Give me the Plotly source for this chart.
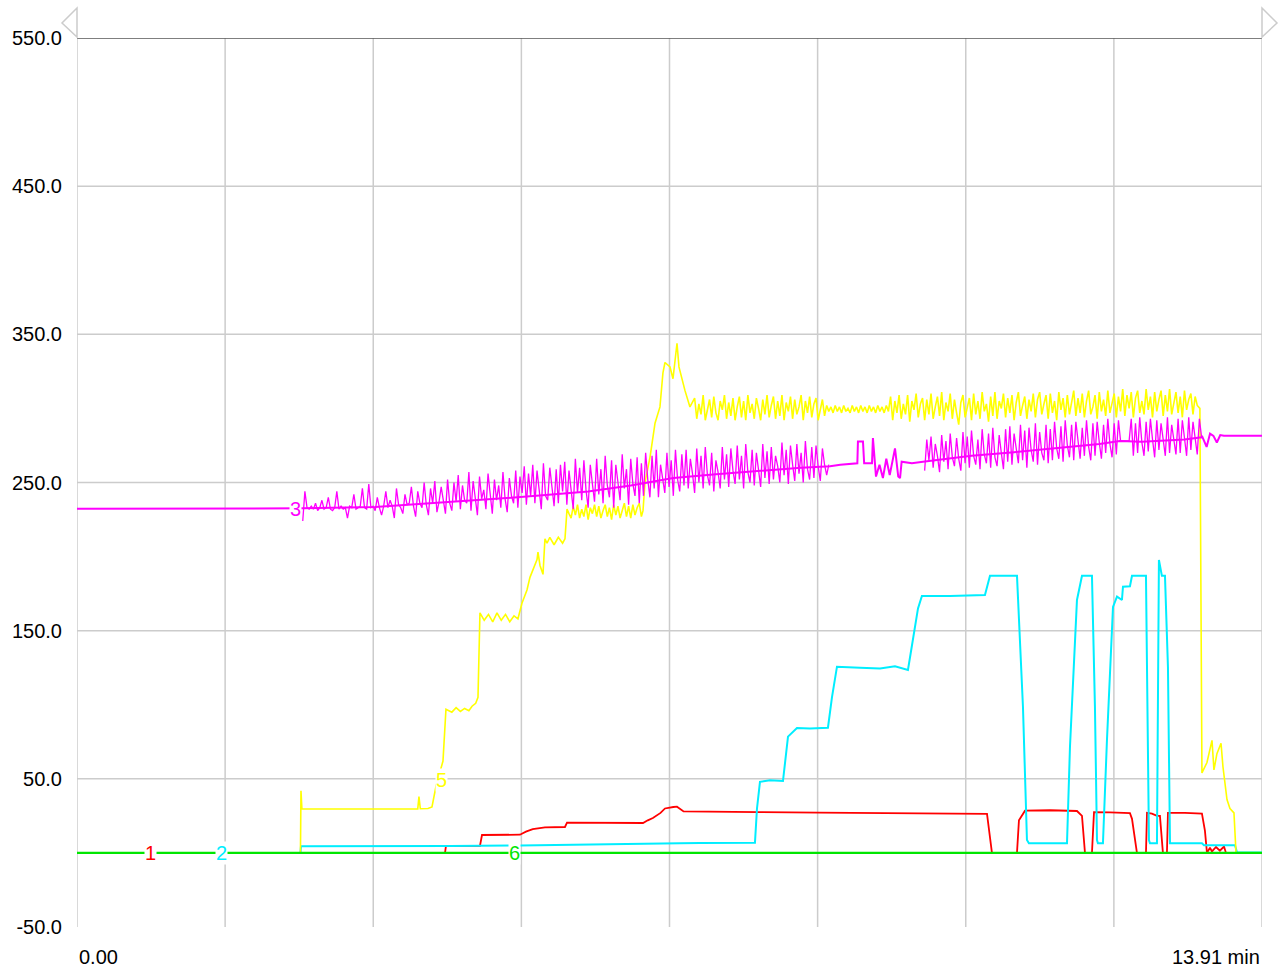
import numpy as np
import plotly.graph_objects as go

# ---------------- data ----------------
T_END = 13.91
Y_TICKS = [-50, 50, 150, 250, 350, 450, 550]
Y_GRID = [50, 150, 250, 350, 450]
X_GRID_DIVS = 8
X_LABELS = ["0.00", "13.91 min"]
SAMPLE_STEP = 0.025  # sampling interval of the noisy blocks (min)

# channel 1 (red)
CH1_T = [0, 4.320, 4.331, 4.730, 4.754, 5.200, 5.27, 5.35, 5.493, 5.728,
         5.752, 6.644, 6.70, 6.76, 6.85, 6.902, 7.0, 7.043, 7.12, 7.313,
         8.0, 8.7, 9.5, 10.2, 10.682, 10.740, 11.034, 11.057, 11.128, 11.421,
         11.738, 11.797, 11.832, 11.914, 11.938, 12.125, 12.360, 12.384, 12.442, 12.548,
         12.560, 12.618, 12.677, 12.712, 12.747, 12.794, 12.806, 13.006, 13.205, 13.240,
         13.264, 13.299, 13.323, 13.370, 13.416, 13.464, 13.487, 13.91]
CH1_V = [0, 0, 4.7, 4.7, 12.1, 12.3, 14.4, 16, 17.3, 17.5,
         20.4, 20.2, 22, 23.6, 27, 30, 31, 31.2, 28, 27.8,
         27.5, 27.2, 26.8, 26.5, 26.3, 0, 0, 22, 28.5, 28.8,
         28.3, 25, 0, 0, 27.5, 27.3, 26.8, 23, 0, 0,
         27, 26.5, 25, 25, 0, 0, 27, 27, 26.5, 15,
         0, 3.5, 1, 4, 1.5, 4.3, 0, 0]

# channel 2 (cyan)
CH2_T = [0, 2.623, 2.629, 3.557, 4.378, 5.200, 6.139, 7.078, 7.313, 7.958,
         7.982, 8.017, 8.134, 8.287, 8.346, 8.451, 8.604, 8.815, 8.862, 8.921,
         9.191, 9.426, 9.602, 9.754, 9.801, 9.872, 9.918, 10.247, 10.658, 10.693,
         10.717, 11.034, 11.069, 11.104, 11.151, 11.174, 11.621, 11.656, 11.738, 11.797,
         11.914, 11.949, 11.973, 11.984, 12.043, 12.090, 12.161, 12.208, 12.266, 12.278,
         12.360, 12.384, 12.548, 12.583, 12.595, 12.677, 12.700, 12.735, 12.771, 12.806,
         12.830, 13.205, 13.229, 13.593, 13.616, 13.91]
CH2_V = [0, 0, 4.5, 4.3, 4.6, 5.0, 5.5, 6.5, 6.7, 6.9,
         30, 48, 49, 48.5, 78.5, 84.3, 84, 84.5, 105, 125.7,
         125, 124.5, 126, 123.5, 140, 165, 173.4, 173.4, 174, 183,
         187, 187, 146, 98.7, 8.7, 6.5, 6.5, 71.7, 170.7, 187,
         187, 98.7, 8.7, 6.5, 6.5, 76, 166, 173, 170.7, 179.7,
         180, 187, 187, 8.7, 6.5, 6.5, 197.7, 187, 187, 125.7,
         6.5, 6.5, 5.2, 5.2, 0.5, 0.3]

# channel 3 (magenta): baseline readings + noisy blocks
CH3_LINE_T = [0.0, 2.60, 2.65, 3.5, 4.0, 4.5, 5.0, 5.5, 6.0, 6.5, 7.0, 7.5, 8.0, 8.5,
              8.84, 8.96, 9.16, 9.167, 9.226, 9.24, 9.332, 9.343, 9.379, 9.42,
              9.46, 9.50, 9.54, 9.58, 9.602, 9.64, 9.661, 9.68, 9.80, 9.93,
              10.5, 11.0, 11.5, 12.0, 12.24, 12.36, 12.5, 13.0, 13.2,
              13.205, 13.26, 13.30, 13.34, 13.38, 13.42, 13.463, 13.91]
CH3_LINE_V = [232.2, 232.2, 232.6, 233.4, 235.3, 237, 239.3, 241.5, 244, 248, 253, 255.5, 258, 260,
              261, 262, 263, 277.6, 277.6, 263, 263, 280, 254, 262,
              253, 266, 255, 266, 273, 254, 253, 264, 263, 264,
              268, 270.5, 273, 276, 278, 278, 277.5, 279, 280.5,
              281.5, 274, 283, 281.5, 277, 282, 281.5, 281.5]
CH3_NOISE1_START = 2.65
CH3_NOISE1_V = [224, 244, 233, 232, 234, 232, 236, 231, 233, 238, 232, 233, 240, 232, 231, 233, 244, 232, 234, 232,
                233, 226, 234, 233, 242, 232, 233, 234, 246, 233, 232, 249, 233, 234, 231, 240, 233, 228, 234, 244,
                233, 238, 234, 226, 246, 235, 233, 229, 242, 235, 236, 247, 234, 227, 244, 236, 233, 250, 235, 228,
                246, 236, 251, 230, 237, 247, 238, 229, 252, 236, 231, 250, 237, 255, 232, 248, 238, 236, 257, 231,
                251, 238, 228, 254, 239, 245, 232, 256, 240, 229, 252, 238, 248, 233, 257, 239, 230, 253, 241, 236,
                258, 233, 254, 243, 261, 235, 256, 241, 262, 236, 258, 245, 232, 263, 241, 238, 260, 247, 234, 259,
                236, 262, 244, 264, 235, 258, 246, 232, 266, 243, 260, 238, 265, 245, 233, 262, 249, 237, 266, 242,
                259, 236, 268, 248, 240, 265, 233, 262, 250, 238, 269, 246, 259, 235, 266, 249, 241, 267, 236, 263,
                241, 270, 252, 240, 268, 246, 272, 240, 262, 253, 243, 270, 247, 265, 241, 272, 252, 244, 269, 248,
                272, 246, 266, 256, 243, 273, 250, 268, 246, 274, 255, 248, 270, 244, 265, 257, 246, 274, 252, 269,
                247, 273, 258, 249, 275, 252, 268, 246, 276, 257, 250, 272, 248, 270, 259, 247, 276, 253, 271, 249,
                274, 252, 268, 261, 250, 277, 255, 272, 249, 275, 262, 251, 276, 256, 270, 250, 278, 259, 252, 274,
                253, 275, 261, 251, 273, 262, 255, 262]
CH3_NOISE2_START = 9.95
CH3_NOISE2_V = [258, 279, 265, 281, 260, 276, 268, 257, 282, 264, 278, 259, 283, 267, 261, 280, 266, 258, 284, 263,
                281, 260, 285, 268, 262, 279, 259, 286, 269, 263, 283, 260, 287, 267, 261, 282, 270, 259, 286, 264,
                288, 262, 283, 271, 263, 289, 265, 285, 260, 287, 272, 264, 290, 262, 284, 270, 265, 289, 263, 286,
                265, 291, 273, 266, 288, 264, 292, 275, 267, 289, 265, 291, 276, 266, 287, 268, 292, 274, 265, 290,
                268, 291, 277, 266, 289, 270, 293, 276, 267, 290, 269, 292, 278, 278, 278, 278, 278, 293, 268, 290,
                270, 294, 277, 268, 291, 271, 293, 279, 267, 292, 272, 290, 278, 268, 294, 270, 289, 279, 269, 293,
                270, 292, 280, 268, 294, 272, 291, 279, 269, 293, 281]

# channel 5 (yellow)
CH5_HEAD_T = [0, 2.623, 2.629, 2.64, 3.0, 3.5, 4.0, 4.014, 4.03, 4.12,
              4.167, 4.214, 4.296, 4.331, 4.40, 4.45, 4.50, 4.55, 4.60, 4.637,
              4.68, 4.707, 4.730, 4.78, 4.83, 4.88, 4.93, 4.98, 5.03, 5.08,
              5.13, 5.176, 5.223, 5.282, 5.317, 5.400, 5.411, 5.435, 5.470, 5.493,
              5.517, 5.55, 5.60, 5.65, 5.70, 5.728, 5.752]
CH5_HEAD_V = [0, 0, 42, 29.8, 29.6, 29.9, 29.7, 38, 29.8, 30,
              31, 45, 62, 97, 95, 98, 95.5, 97.5, 96, 99,
              101, 105, 162, 157, 161, 156, 162, 157, 161, 156,
              160, 158, 168.5, 177.5, 186, 198, 203, 194, 188, 212,
              209, 213, 208, 213, 209, 212, 232]
CH5_NOISE1_START = 5.775
CH5_NOISE1_V = [229, 226, 234, 228, 235, 226, 232, 227, 235, 225, 233, 229, 235, 227, 234, 226, 231, 235, 227, 233,
                225, 235, 228, 234, 226, 232, 236, 227, 234, 226, 235, 228, 233, 236, 227]
CH5_MID_T = [6.644, 6.667, 6.726, 6.785, 6.843, 6.878, 6.902, 6.961, 6.996, 7.020,
             7.043, 7.066, 7.101, 7.137, 7.195]
CH5_MID_V = [231, 250, 267, 290, 301, 324, 331, 328, 320, 333,
             344, 328, 319, 312, 301]
CH5_NOISE2_START = 7.25
CH5_NOISE2_V = [307, 293, 303, 296, 309, 292, 300, 306, 294, 308, 297, 292, 305, 299, 309, 293, 304, 295, 307, 292,
                301, 308, 294, 305, 292, 309, 297, 303, 293, 307, 300, 292, 306, 296, 309, 294, 302, 308, 293, 305,
                295, 309, 292, 304, 298, 308, 293, 306, 296, 301, 309, 292, 305, 297, 308, 294, 303, 307, 292, 300,
                306, 295, 302, 298, 301, 297, 302, 298, 301, 297, 302, 298, 300, 297, 302, 298, 301, 297, 302, 298,
                301, 297, 302, 298, 301, 297, 302, 298, 301, 297, 302, 298, 308, 292, 305, 297, 309, 293, 303, 296,
                309, 291, 305, 299, 310, 294, 303, 307, 292, 306, 296, 310, 293, 301, 308, 295, 311, 292, 304, 298,
                310, 293, 306, 297, 289, 304, 309, 294, 301, 307, 292, 310, 296, 305, 293, 311, 298, 303, 291, 308,
                295, 311, 293, 305, 300, 310, 294, 307, 297, 309, 292, 304, 311, 295, 302, 308, 293, 306, 298, 310,
                294, 306, 311, 296, 303, 309, 293, 310, 297, 305, 292, 311, 299, 307, 294, 309, 296, 303, 312, 295,
                307, 297, 310, 294, 305, 312, 296, 301, 309, 293, 311, 298, 306, 295, 312, 297, 304, 310, 294, 308,
                298, 313, 295, 309, 300, 311, 294, 307, 312, 297, 305, 296, 313, 299, 308, 294, 311, 298, 306, 312,
                295, 309, 298, 313, 296, 305, 311, 297, 308, 294, 312, 299, 306, 310, 296, 308, 302]
CH5_TAIL_T = [13.181, 13.205, 13.264, 13.323, 13.346, 13.381, 13.429, 13.452, 13.499, 13.534,
              13.581, 13.605, 13.91]
CH5_TAIL_V = [300, 54, 61, 76, 56, 67, 74, 58, 36, 30,
              27, 0, 0]

# channel 6 (green)
CH6_T = [0, 13.91]
CH6_V = [0, 0]

LABEL_TEXT = ["1", "2", "3", "5", "6"]
LABEL_T = [0.857, 1.702, 2.559, 4.284, 5.141]
LABEL_V = [0, 0, 232.2, 49.2, 0]

COLORS = {"1": "#ff0000", "2": "#00eeff", "3": "#ff00ff", "5": "#ffff00", "6": "#00e600"}


def grid_times(start, values):
    return [float(x) for x in np.round(start + SAMPLE_STEP * np.arange(len(values)), 4)]


mag_noise_t = grid_times(CH3_NOISE1_START, CH3_NOISE1_V) + [None] + grid_times(CH3_NOISE2_START, CH3_NOISE2_V)
mag_noise_v = CH3_NOISE1_V + [None] + CH3_NOISE2_V

ch5_t = CH5_HEAD_T + grid_times(CH5_NOISE1_START, CH5_NOISE1_V) + CH5_MID_T + \
    grid_times(CH5_NOISE2_START, CH5_NOISE2_V) + CH5_TAIL_T
ch5_v = CH5_HEAD_V + CH5_NOISE1_V + CH5_MID_V + CH5_NOISE2_V + CH5_TAIL_V

FONT = "Liberation Sans, Arial, sans-serif"
GRID_COLOR = "#cccccc"

fig = go.Figure()


def add_line(t, v, color, width):
    fig.add_trace(go.Scatter(x=t, y=v, mode="lines", line=dict(color=color, width=width),
                             connectgaps=False, hoverinfo="skip"))


add_line(CH1_T, CH1_V, COLORS["1"], 1.8)
add_line(CH2_T, CH2_V, COLORS["2"], 2.0)
add_line(ch5_t, ch5_v, COLORS["5"], 1.6)
add_line(mag_noise_t, mag_noise_v, COLORS["3"], 1.3)
add_line(CH3_LINE_T, CH3_LINE_V, COLORS["3"], 2.0)
add_line(CH6_T, CH6_V, COLORS["6"], 2.2)

shapes = []
for k in range(X_GRID_DIVS + 1):
    xv = T_END * k / X_GRID_DIVS
    shapes.append(dict(type="line", xref="x", yref="paper", x0=xv, x1=xv, y0=0, y1=1,
                       line=dict(color=GRID_COLOR, width=1.5), layer="below"))
for yv in Y_GRID:
    shapes.append(dict(type="line", xref="paper", yref="y", x0=0, x1=1, y0=yv, y1=yv,
                       line=dict(color=GRID_COLOR, width=1.5), layer="below"))
shapes.append(dict(type="line", xref="paper", yref="y", x0=0, x1=1, y0=Y_TICKS[-1], y1=Y_TICKS[-1],
                   line=dict(color="#555555", width=1.5), layer="below"))
# scroll arrows at the top corners
shapes.append(dict(type="path", xref="paper", yref="paper",
                   path="M 0 1.0337 L -0.01266 1.0169 L 0 1.0011 Z",
                   line=dict(color=GRID_COLOR, width=1.5), fillcolor="rgba(0,0,0,0)"))
shapes.append(dict(type="path", xref="paper", yref="paper",
                   path="M 1 1.0337 L 1.01266 1.0169 L 1 1.0011 Z",
                   line=dict(color=GRID_COLOR, width=1.5), fillcolor="rgba(0,0,0,0)"))

annotations = []
for txt, t, v in zip(LABEL_TEXT, LABEL_T, LABEL_V):
    annotations.append(dict(x=t, y=v, xref="x", yref="y", text=txt, showarrow=False,
                            font=dict(family=FONT, size=20, color=COLORS[txt]),
                            bgcolor="white", borderpad=0, xanchor="center", yanchor="middle"))
annotations.append(dict(x=0, y=0, xref="x", yref="paper", text=X_LABELS[0], showarrow=False,
                        font=dict(family=FONT, size=20, color="black"),
                        xanchor="left", yanchor="middle", yshift=-30))
annotations.append(dict(x=T_END, y=0, xref="x", yref="paper", text=X_LABELS[1], showarrow=False,
                        font=dict(family=FONT, size=20, color="black"),
                        xanchor="right", yanchor="middle", yshift=-30))

fig.update_layout(
    width=1281, height=972,
    margin=dict(l=77, r=19, t=38, b=45),
    paper_bgcolor="white", plot_bgcolor="white",
    showlegend=False,
    font=dict(family=FONT, size=20, color="black"),
    xaxis=dict(range=[0, T_END], showgrid=False, zeroline=False, showline=False,
               showticklabels=False, ticks=""),
    yaxis=dict(range=[Y_TICKS[0], Y_TICKS[-1]], showgrid=False, zeroline=False, showline=False,
               tickvals=Y_TICKS, ticktext=[f"{v:.1f}" for v in Y_TICKS], ticks="",
               ticklabelstandoff=14, tickfont=dict(family=FONT, size=20, color="black")),
    shapes=shapes, annotations=annotations,
)

fig.write_html("out.html", config={"displayModeBar": False},
               post_script="document.body.style.margin='0';document.body.style.overflow='hidden';")
